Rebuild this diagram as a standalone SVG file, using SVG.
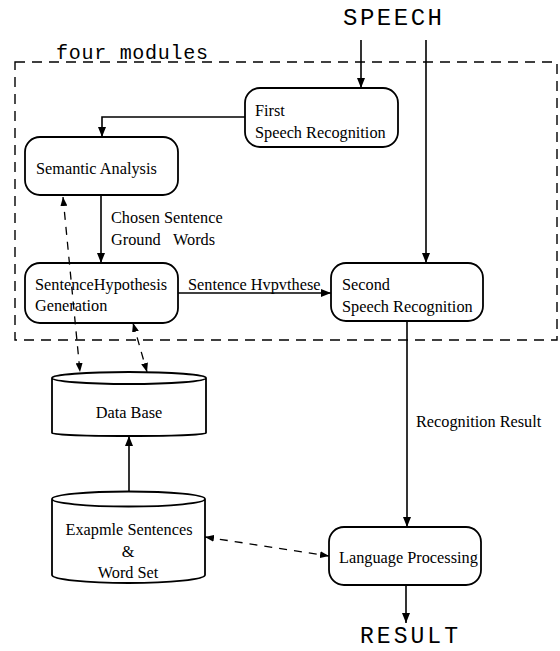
<svg xmlns="http://www.w3.org/2000/svg" width="560" height="651" viewBox="0 0 560 651">
<defs>
<style>
.box{fill:none;stroke:#000;stroke-width:1.8}
.t{font-family:"Liberation Serif","Times New Roman",serif;font-size:16.3px;fill:#000}
.m{font-family:"Liberation Mono","Courier New",monospace;fill:#000}
.ln{fill:none;stroke:#000;stroke-width:1.6}
.dl{fill:none;stroke:#000;stroke-width:1.3;stroke-dasharray:8 7}
.frame{fill:none;stroke:#000;stroke-width:1.4;stroke-dasharray:10 7}
</style>
<marker id="ah" viewBox="0 0 10 8" refX="10" refY="4" markerWidth="10" markerHeight="8" markerUnits="userSpaceOnUse" orient="auto-start-reverse"><path d="M0,0 L10,4 L0,8 z" fill="#000"/></marker>
<marker id="ad" viewBox="0 0 9 7" refX="9" refY="3.5" markerWidth="9" markerHeight="7" markerUnits="userSpaceOnUse" orient="auto-start-reverse"><path d="M0,0 L9,3.5 L0,7 z" fill="#000"/></marker>
</defs>
<rect width="560" height="651" fill="#fff"/>

<g id="frame">
<path class="frame" d="M15,62 H557 V340 H15 Z"/>
<text class="m" x="56" y="59" font-size="20" textLength="152" lengthAdjust="spacing">four modules</text>
</g>

<g id="speech"><text class="m" x="343" y="25" font-size="24" textLength="99" lengthAdjust="spacing">SPEECH</text></g>
<g id="result"><text class="m" x="360" y="643" font-size="23" textLength="98" lengthAdjust="spacing">RESULT</text></g>

<g id="first">
<rect class="box" x="245" y="88" width="153" height="59" rx="15"/>
<text class="t" x="255" y="116">First</text>
<text class="t" x="255" y="138">Speech Recognition</text>
</g>

<g id="semantic">
<rect class="box" x="25" y="137" width="153" height="58" rx="15"/>
<text class="t" x="36" y="174">Semantic Analysis</text>
</g>

<g id="sentence">
<rect class="box" x="25" y="263" width="153" height="60" rx="15"/>
<text class="t" x="35" y="290">SentenceHypothesis</text>
<text class="t" x="35" y="311">Generation</text>
</g>

<g id="second">
<rect class="box" x="331" y="263" width="152" height="58" rx="15"/>
<text class="t" x="342" y="290">Second</text>
<text class="t" x="342" y="312">Speech Recognition</text>
</g>

<g id="database">
<path class="box" d="M52,378 A77,6 0 0,1 206,378 A77,6 0 0,1 52,378 Z M52,378 V433 A77,3 0 0,0 206,433 V378"/>
<text class="t" x="129" y="418" text-anchor="middle">Data Base</text>
</g>

<g id="examples">
<path class="box" d="M52,499 A76.5,7.5 0 0,1 205,499 A76.5,7.5 0 0,1 52,499 Z M52,499 V575 A76.5,8 0 0,0 205,575 V499"/>
<text class="t" x="129" y="535" text-anchor="middle">Exapmle Sentences</text>
<text class="t" x="128" y="557" text-anchor="middle">&amp;</text>
<text class="t" x="128" y="578" text-anchor="middle">Word Set</text>
</g>

<g id="language">
<rect class="box" x="329" y="527" width="152" height="58" rx="15"/>
<text class="t" x="339" y="563">Language Processing</text>
</g>

<g id="connectors">
<path class="ln" d="M361,40 V88" marker-end="url(#ah)"/>
<path class="ln" d="M426,40 V263" marker-end="url(#ah)"/>
<path class="ln" d="M245,117 H102 V137" marker-end="url(#ah)"/>
<path class="ln" d="M101,195 V263" marker-end="url(#ah)"/>
<path class="ln" d="M178,293 H331" marker-end="url(#ah)"/>
<path class="ln" d="M407,321 V527" marker-end="url(#ah)"/>
<path class="ln" d="M406,585 V623" marker-end="url(#ah)"/>
<path class="ln" d="M129,492 V436" marker-end="url(#ah)"/>
<path class="dl" d="M63,197 L80,372" marker-start="url(#ad)" marker-end="url(#ad)"/>
<path class="dl" d="M133,323 L147,372" marker-start="url(#ad)" marker-end="url(#ad)"/>
<path class="dl" d="M205,537 L329,556" marker-start="url(#ad)" marker-end="url(#ad)"/>
<text class="t" x="111" y="223">Chosen Sentence</text>
<text class="t" x="111" y="245">Ground<tspan x="173">Words</tspan></text>
<text class="t" x="188" y="290" font-size="17">Sentence Hvpvthese</text>
<text class="t" x="416" y="427">Recognition Result</text>
</g>
</svg>
